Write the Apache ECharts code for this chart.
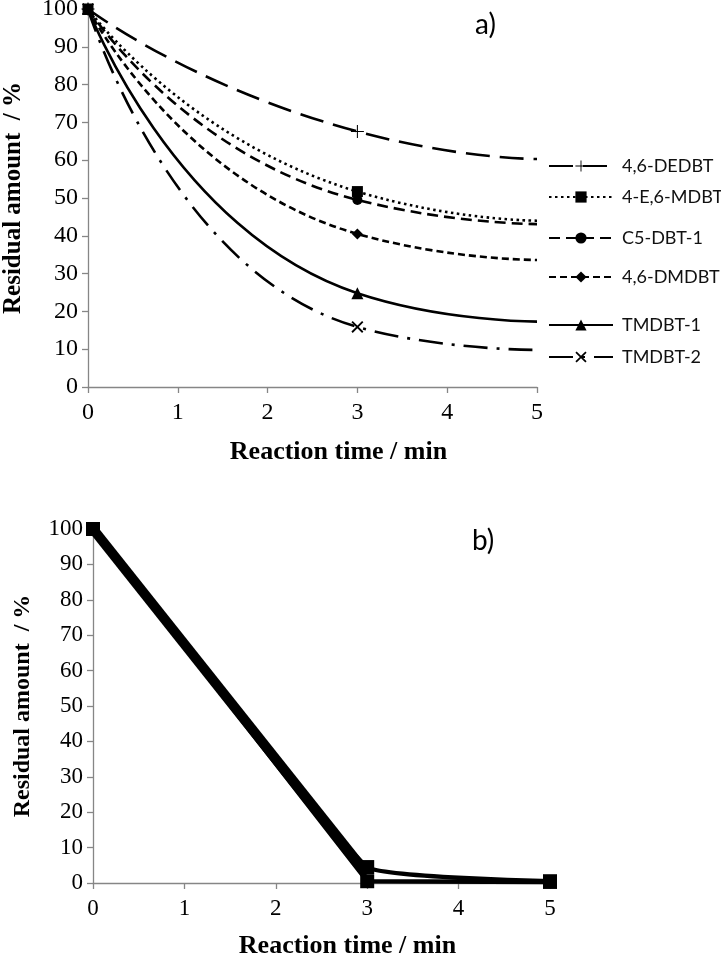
<!DOCTYPE html>
<html>
<head>
<meta charset="utf-8">
<script src="https://cdn.jsdelivr.net/npm/echarts@6/dist/echarts.min.js"></script>
<style>html,body{margin:0;padding:0;background:#fff;}#c{width:721px;height:957px;}</style>
</head>
<body>
<div id="c"></div>
<script>
// ---- data (chart a) ----
const times = [0, 3, 5];
const seriesNames = ['4,6-DEDBT', '4-E,6-MDBT', 'C5-DBT-1', '4,6-DMDBT', 'TMDBT-1', 'TMDBT-2'];
const dedbt = [100, 67.6, 60.3];
const e6mdbt = [100, 51.7, 44.0];
const c5dbt1 = [100, 49.5, 43.1];
const dmdbt = [100, 40.5, 33.6];
const tmdbt1 = [100, 24.8, 17.3];
const tmdbt2 = [100, 15.9, 9.8];
// ---- data (chart b) ----
const timesB = [0, 3, 5];
const bUpper = [100, 4.5, 0.5];
const bLower = [100, 0.5, 0.3];
const bBand = [100, 2.5, null];
// ---- tick labels ----
const xTicks = [0, 1, 2, 3, 4, 5];
const yTicks = [0, 10, 20, 30, 40, 50, 60, 70, 80, 90, 100];

const valsA = [dedbt, e6mdbt, c5dbt1, dmdbt, tmdbt1, tmdbt2];
const styles = [
  {symbol: 'path://M9.2,0h1.6v20h-1.6z M0,9.2h20v1.6h-20z', size: 13, dash: [24, 10]},
  {symbol: 'rect', size: 11, dash: [2.5, 3.5]},
  {symbol: 'circle', size: 10, dash: [11, 6]},
  {symbol: 'diamond', size: 11, dash: [7, 4]},
  {symbol: 'triangle', size: 12, dash: 'solid'},
  {symbol: 'path://M0,1.1L1.1,0L10,8.9L8.9,10Z M8.9,0L10,1.1L1.1,10L0,8.9Z', size: 12, dash: [24, 9, 3, 9]}
];
const legendTops = [159, 190, 231, 270, 318, 350];

const serif = 'Liberation Serif';
const axisColor = '#868686';

function mkData(xs, ys, hideLast) {
  return xs.map((x, i) => {
    if (ys[i] == null) return [x, null];
    if (hideLast && i === xs.length - 1) return {value: [x, ys[i]], symbol: 'none'};
    return [x, ys[i]];
  });
}

const series = [];
seriesNames.forEach((n, i) => {
  series.push({
    name: n, type: 'line', xAxisIndex: 0, yAxisIndex: 0,
    smooth: 0.6,
    data: mkData(times, valsA[i], true),
    symbol: styles[i].symbol, symbolSize: styles[i].size,
    itemStyle: {color: '#000'},
    lineStyle: {color: '#000', width: 2.6, type: styles[i].dash},
    z: 10 - i
  });
});
series.push({
  name: 'band', type: 'line', xAxisIndex: 1, yAxisIndex: 1, smooth: 0.08,
  data: mkData(timesB, bBand, false), symbol: 'none',
  lineStyle: {color: '#000', width: 10}
});
series.push({
  name: 'upper', type: 'line', xAxisIndex: 1, yAxisIndex: 1, smooth: 0.1,
  data: mkData(timesB, bUpper, false), symbol: 'rect', symbolSize: 14,
  itemStyle: {color: '#000'}, lineStyle: {color: '#000', width: 4.5}
});
series.push({
  name: 'lower', type: 'line', xAxisIndex: 1, yAxisIndex: 1, smooth: false,
  data: mkData(timesB, bLower, false), symbol: 'rect', symbolSize: 14,
  itemStyle: {color: '#000'}, lineStyle: {color: '#000', width: 4.5}
});

const legends = seriesNames.map((n, i) => ({
  data: [n], left: 543, top: legendTops[i] - 7, orient: 'horizontal',
  itemWidth: 64, itemHeight: 14, selectedMode: false,
  textStyle: {fontFamily: 'Lato', fontSize: 18, color: '#111', padding: [0, 0, 0, 4]}
}));

function xAx(gi, fs, gap) {
  return {
    type: 'value', gridIndex: gi, min: 0, max: 5, interval: 1,
    name: 'Reaction time / min', nameLocation: 'middle', nameGap: gap,
    nameTextStyle: {fontFamily: serif, fontWeight: 'bold', fontSize: 26, color: '#000', padding: [0, 0, 0, 52]},
    axisLine: {show: true, lineStyle: {color: axisColor, width: 1.3}},
    axisTick: {show: true, inside: false, length: 6, lineStyle: {color: axisColor, width: 1.3}},
    axisLabel: {fontFamily: serif, fontSize: fs, color: '#000', margin: 14,
      formatter: v => xTicks.includes(v) ? String(v) : ''},
    splitLine: {show: false}
  };
}
function yAx(gi, fs, nfs, gap) {
  return {
    type: 'value', gridIndex: gi, min: 0, max: 100, interval: 10,
    name: 'Residual amount  / %', nameLocation: 'middle', nameGap: gap,
    nameTextStyle: {fontFamily: serif, fontWeight: 'bold', fontSize: nfs, color: '#000'},
    axisLine: {show: true, lineStyle: {color: axisColor, width: 1.3}},
    axisTick: {show: true, inside: false, length: 6, lineStyle: {color: axisColor, width: 1.3}},
    axisLabel: {fontFamily: serif, fontSize: fs, color: '#000', margin: 10,
      formatter: v => yTicks.includes(v) ? String(v) : ''},
    splitLine: {show: false}
  };
}

const option = {
  animation: false,
  backgroundColor: '#fff',
  grid: [
    {left: 88, top: 9, width: 449, height: 378, containLabel: false, outerBoundsMode: 'none'},
    {left: 93, top: 529, width: 457, height: 354, containLabel: false, outerBoundsMode: 'none'}
  ],
  xAxis: [xAx(0, 24, 52), xAx(1, 23, 50)],
  yAxis: [yAx(0, 24, 25, 62), yAx(1, 23, 24, 58)],
  legend: legends,
  graphic: [
    {type: 'text', left: 475, top: 11, style: {text: 'a)', fontFamily: 'Lato', fontSize: 28, fill: '#000'}},
    {type: 'text', left: 472, top: 527, style: {text: 'b)', fontFamily: 'Lato', fontSize: 28, fill: '#000'}}
  ],
  series: series
};

const chart = echarts.init(document.getElementById('c'), null, {renderer: 'canvas'});
chart.setOption(option);
</script>
</body>
</html>
